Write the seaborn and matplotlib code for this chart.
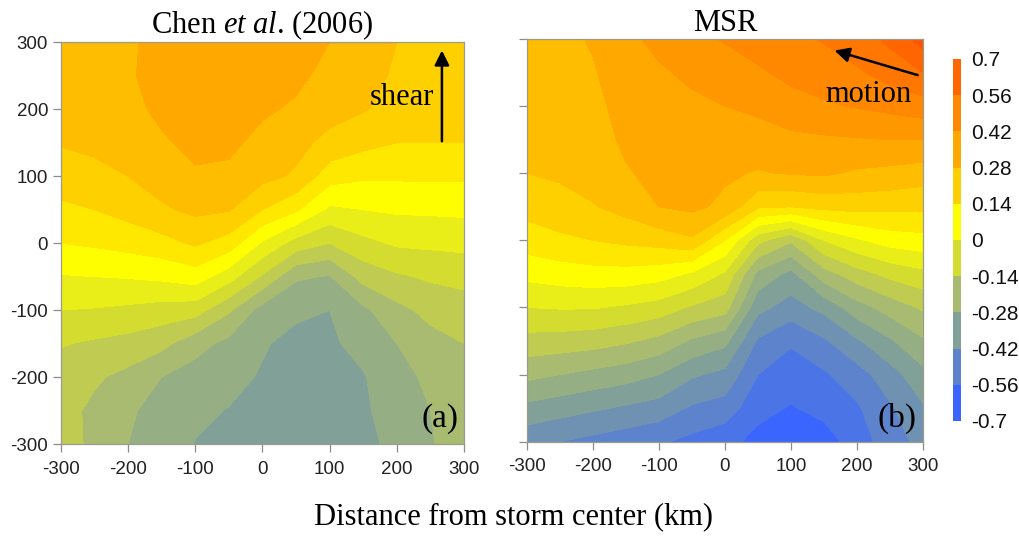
import numpy as np
import matplotlib
matplotlib.use("Agg")
import matplotlib.pyplot as plt
from matplotlib.colors import ListedColormap, BoundaryNorm
from matplotlib.cm import ScalarMappable
import seaborn as sns

# Grid of the composite (km from storm centre)
x_km = [-300, -250, -200, -150, -100, -50, 0, 50, 100, 150, 200, 250, 300]
y_km = [300, 250, 200, 150, 100, 50, 0, -50, -100, -150, -200, -250, -300]

# Chen et al. (2006) field: one list per x position, values from y = 300 down to y = -300
chen_by_x = [
    [0.255, 0.245, 0.235, 0.215, 0.175, 0.125, 0.07, -0.005, -0.07, -0.135, -0.17, -0.185, -0.17],
    [0.26, 0.255, 0.245, 0.225, 0.19, 0.14, 0.08, 0.0, -0.075, -0.15, -0.20, -0.225, -0.23],
    [0.27, 0.27, 0.26, 0.24, 0.21, 0.165, 0.095, 0.005, -0.085, -0.165, -0.23, -0.27, -0.28],
    [0.30, 0.31, 0.295, 0.27, 0.24, 0.20, 0.115, 0.015, -0.10, -0.19, -0.28, -0.305, -0.32],
    [0.32, 0.325, 0.32, 0.30, 0.27, 0.225, 0.15, 0.035, -0.11, -0.255, -0.31, -0.34, -0.352],
    [0.325, 0.33, 0.315, 0.295, 0.265, 0.215, 0.11, -0.04, -0.20, -0.30, -0.335, -0.352, -0.365],
    [0.31, 0.30, 0.29, 0.26, 0.23, 0.14, -0.01, -0.15, -0.31, -0.345, -0.355, -0.375, -0.385],
    [0.30, 0.295, 0.27, 0.23, 0.20, 0.08, -0.10, -0.27, -0.34, -0.365, -0.38, -0.39, -0.39],
    [0.28, 0.26, 0.235, 0.19, 0.10, -0.015, -0.14, -0.285, -0.35, -0.36, -0.375, -0.39, -0.39],
    [0.24, 0.235, 0.215, 0.16, 0.08, 0.0, -0.09, -0.185, -0.295, -0.33, -0.355, -0.36, -0.37],
    [0.21, 0.20, 0.185, 0.14, 0.08, 0.01, -0.06, -0.15, -0.23, -0.28, -0.305, -0.32, -0.33],
    [0.18, 0.185, 0.175, 0.14, 0.08, 0.012, -0.055, -0.13, -0.19, -0.235, -0.265, -0.28, -0.285],
    [0.16, 0.17, 0.165, 0.14, 0.08, 0.015, -0.05, -0.12, -0.17, -0.21, -0.24, -0.25, -0.25],
]

# MSR field, same layout
msr_by_x = [
    [0.24, 0.24, 0.235, 0.225, 0.21, 0.165, 0.105, 0.02, -0.07, -0.165, -0.26, -0.37, -0.47],
    [0.265, 0.255, 0.245, 0.235, 0.22, 0.185, 0.125, 0.035, -0.065, -0.17, -0.28, -0.39, -0.49],
    [0.285, 0.275, 0.265, 0.255, 0.24, 0.205, 0.14, 0.045, -0.065, -0.18, -0.30, -0.41, -0.51],
    [0.33, 0.31, 0.30, 0.29, 0.275, 0.235, 0.155, 0.045, -0.08, -0.20, -0.32, -0.43, -0.53],
    [0.37, 0.34, 0.32, 0.305, 0.295, 0.28, 0.17, 0.03, -0.10, -0.23, -0.35, -0.45, -0.55],
    [0.40, 0.365, 0.335, 0.31, 0.30, 0.295, 0.20, -0.01, -0.15, -0.29, -0.41, -0.50, -0.58],
    [0.425, 0.39, 0.35, 0.31, 0.29, 0.265, 0.07, -0.08, -0.18, -0.33, -0.44, -0.52, -0.61],
    [0.45, 0.41, 0.365, 0.32, 0.275, 0.15, -0.12, -0.30, -0.40, -0.50, -0.56, -0.61, -0.65],
    [0.47, 0.44, 0.39, 0.335, 0.285, 0.14, -0.20, -0.37, -0.45, -0.55, -0.60, -0.635, -0.68],
    [0.495, 0.46, 0.41, 0.34, 0.29, 0.16, -0.07, -0.24, -0.40, -0.50, -0.57, -0.61, -0.66],
    [0.53, 0.48, 0.425, 0.345, 0.27, 0.165, -0.01, -0.17, -0.31, -0.43, -0.52, -0.57, -0.60],
    [0.575, 0.52, 0.44, 0.35, 0.26, 0.16, 0.03, -0.12, -0.25, -0.36, -0.45, -0.50, -0.52],
    [0.66, 0.56, 0.46, 0.35, 0.245, 0.155, 0.045, -0.09, -0.20, -0.29, -0.37, -0.43, -0.47],
]

# Colour scale
cbar_ticks = [-0.7, -0.56, -0.42, -0.28, -0.14, 0.0, 0.14, 0.28, 0.42, 0.56, 0.7]
cbar_labels = ["-0.7", "-0.56", "-0.42", "-0.28", "-0.14", "0", "0.14", "0.28", "0.42", "0.56", "0.7"]
anchor_colors = ["#3a66ff", "#5e84cc", "#80a098", "#aabb70", "#d5dc30", "#ffff00",
                 "#ffd000", "#ffaa00", "#ff8800", "#ff6600", "#ff4400"]

sns.set_style("ticks")
plt.rcParams["font.family"] = ["Liberation Sans", "DejaVu Sans"]
plt.rcParams["axes.unicode_minus"] = False
plt.rcParams["text.color"] = "black"
plt.rcParams["mathtext.fontset"] = "custom"
plt.rcParams["mathtext.rm"] = "Liberation Serif"
plt.rcParams["mathtext.it"] = "Liberation Serif:italic"

levels = np.linspace(-0.7, 0.7, 21)
palette = sns.blend_palette(anchor_colors, n_colors=21)
band_colors = palette[:20]
block_colors = palette[0:20:2]

X, Y = np.meshgrid(np.array(x_km, float), np.array(y_km, float))
chen = np.array(chen_by_x).T
msr = np.array(msr_by_x).T

fig = plt.figure(figsize=(10.2, 5.38), dpi=100)
ax_a = fig.add_axes([0.0595, 0.1747, 0.3955, 0.7467])
ax_b = fig.add_axes([0.5164, 0.179, 0.3885, 0.7485])
cax = fig.add_axes([0.9343, 0.2175, 0.0078, 0.6729])

serif = "Liberation Serif"
for ax, field in ((ax_a, chen), (ax_b, msr)):
    ax.contourf(X, Y, field, levels=levels, colors=band_colors, antialiased=False)
    ax.set_xlim(-300, 300)
    ax.set_ylim(-300, 300)
    ax.set_xticks(range(-300, 301, 100))
    ax.set_yticks(range(-300, 301, 100))
    ax.tick_params(direction="out", length=6, width=0.9, color="#8c8c8c",
                   labelsize=13.5, labelcolor="#222222")
    ax.tick_params(axis="x", pad=6)
    ax.tick_params(axis="y", pad=3)
    for sp in ax.spines.values():
        sp.set_color("#9c9c8c")
        sp.set_linewidth(0.9)
    ax.set_xlabel("")
    ax.set_ylabel("")

ax_b.tick_params(labelleft=False)

ax_a.set_title(r"Chen $\mathit{et\ al}$. (2006)", fontsize=22, family=serif, pad=4)
ax_b.set_title("MSR", fontsize=22, family=serif, pad=6)

# Shear vector (panel a) and storm motion (panel b)
ax_a.annotate("", xy=(267, 292), xytext=(267, 148),
              arrowprops=dict(arrowstyle="-|>", lw=1.8, color="black", mutation_scale=22))
ax_a.text(256, 218, "shear", fontsize=22, family=serif, ha="right", va="center")
ax_a.text(292, -262, "(a)", fontsize=24, family=serif, ha="right", va="center")

ax_b.annotate("", xy=(162, 284), xytext=(296, 245),
              arrowprops=dict(arrowstyle="-|>", lw=1.8, color="black", mutation_scale=22))
ax_b.text(217, 218, "motion", fontsize=22, family=serif, ha="center", va="center")
ax_b.text(290, -266, "(b)", fontsize=24, family=serif, ha="right", va="center")

sm = ScalarMappable(norm=BoundaryNorm(cbar_ticks, 10), cmap=ListedColormap(block_colors))
cb = fig.colorbar(sm, cax=cax, ticks=cbar_ticks)
cb.ax.set_yticklabels(cbar_labels)
cb.ax.tick_params(length=0, labelsize=15, pad=7, labelcolor="#111111")
cb.outline.set_visible(False)

fig.text(0.503, 1 - 517 / 538, "Distance from storm center (km)", fontsize=22,
         family=serif, ha="center", va="center")

fig.savefig("out.png", dpi=100, facecolor="white")
